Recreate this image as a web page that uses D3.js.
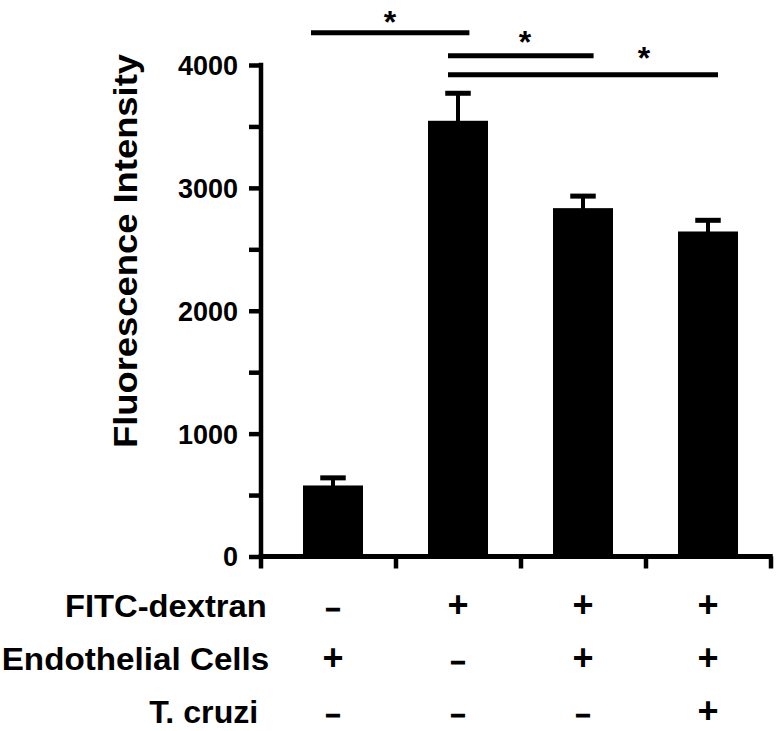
<!DOCTYPE html>
<html>
<head>
<meta charset="utf-8">
<script src="https://cdn.jsdelivr.net/npm/d3@7"></script>
<style>
  html, body { margin: 0; padding: 0; background: #fff; }
  svg { display: block; }
  text { font-family: "Liberation Sans", Arial, Helvetica, sans-serif; font-weight: bold; fill: #000; }
</style>
</head>
<body>
<svg id="chart" width="782" height="731"></svg>
<script>
// ---------- data ----------
const categories = ["EC only", "FITC-dextran", "FITC-dextran + EC", "FITC-dextran + EC + T. cruzi"];
const means = [578, 3546, 2835, 2645];
const sems = [62, 224, 98, 91];
const yTickValues = [0, 500, 1000, 1500, 2000, 2500, 3000, 3500, 4000];
const yLabelValues = [0, 1000, 2000, 3000, 4000];
const yTitle = "Fluorescence Intensity";
const rowLabels = ["FITC-dextran", "Endothelial Cells", "T. cruzi"];
const fitcRow = ["–", "+", "+", "+"];
const endoRow = ["+", "–", "+", "+"];
const cruziRow = ["–", "–", "–", "+"];
const comparisons = [[0, 1], [1, 2], [1, 3]];
const sigLabels = ["*", "*", "*"];

// ---------- layout ----------
const L = {
  axisX: 261, y0: 556.5, y1: 65, bandStart: 270.5, bandEnd: 770.5,
  barFrac: 0.48, capW: 25.5, capH: 5, stemW: 4, lineW: 4.5, tickLen: 12,
  rowBaselines: [616.7, 670, 723.3],
  rowRight: [266.7, 269.3, 258.3],
  rowLengths: [201.7, 267.6, 109],
  rowFont: 31,
  brackets: [
    { y: 32.7, off0: -22, off1: 11.4, starDx: 57, starY: 14 },
    { y: 55.8, off0: -10, off1: 10.6, starDx: 67, starY: 34 },
    { y: 74.8, off0: -10, off1: 10, starDx: 186, starY: 49.7 }
  ]
};

const svg = d3.select("#chart");
const y = d3.scaleLinear().domain([0, 4000]).range([L.y0, L.y1]);
const x = d3.scaleBand().domain(categories).range([L.bandStart, L.bandEnd]).padding(0);
const bw = x.bandwidth();
const barW = bw * L.barFrac;
const xc = c => x(c) + bw / 2;

// ---------- bars ----------
const data = categories.map((c, i) => ({ c, m: means[i], e: sems[i] }));
svg.append("g").selectAll("rect").data(data).join("rect")
  .attr("x", d => xc(d.c) - barW / 2)
  .attr("y", d => y(d.m))
  .attr("width", barW)
  .attr("height", d => y(0) - y(d.m) + 2.5)
  .attr("fill", "#000");

// error bars
const eb = svg.append("g");
eb.selectAll("rect.stem").data(data).join("rect").attr("class", "stem")
  .attr("x", d => xc(d.c) - L.stemW / 2)
  .attr("y", d => y(d.m + d.e))
  .attr("width", L.stemW)
  .attr("height", d => y(d.m) - y(d.m + d.e) + 1)
  .attr("fill", "#000");
eb.selectAll("rect.cap").data(data).join("rect").attr("class", "cap")
  .attr("x", d => xc(d.c) - L.capW / 2)
  .attr("y", d => y(d.m + d.e) - L.capH / 2)
  .attr("width", L.capW)
  .attr("height", L.capH)
  .attr("fill", "#000");

// ---------- y axis ----------
const yAxis = d3.axisLeft(y)
  .tickValues(yTickValues)
  .tickSize(L.tickLen)
  .tickSizeOuter(0)
  .tickPadding(11)
  .tickFormat(v => yLabelValues.includes(v) ? String(v) : "");
const gy = svg.append("g").attr("transform", `translate(${L.axisX},0)`).call(yAxis);
gy.select(".domain").remove();
gy.selectAll(".tick line").attr("stroke", "#000").attr("stroke-width", L.lineW);
gy.selectAll(".tick text").attr("font-size", 27).attr("font-family", "Liberation Sans, Arial, sans-serif").attr("font-weight", "bold").attr("dy", "0.35em");
gy.append("line")
  .attr("x1", 0).attr("x2", 0)
  .attr("y1", y(4000) - L.lineW / 2)
  .attr("y2", y(0) + L.tickLen)
  .attr("stroke", "#000").attr("stroke-width", L.lineW);

// ---------- x axis ----------
const boundaries = categories.map(c => x(c) + bw);
const xAxisScale = d3.scaleIdentity().domain([L.axisX, L.bandEnd]);
const xAxis = d3.axisBottom(xAxisScale).tickValues(boundaries).tickSize(L.tickLen).tickSizeOuter(0).tickFormat("");
const gx = svg.append("g").attr("transform", `translate(0,${y(0)})`).call(xAxis);
gx.select(".domain").remove();
gx.selectAll(".tick line").attr("stroke", "#000").attr("stroke-width", L.lineW);
gx.append("line")
  .attr("x1", L.axisX - L.lineW / 2).attr("x2", L.bandEnd + L.lineW / 2)
  .attr("y1", 0).attr("y2", 0)
  .attr("stroke", "#000").attr("stroke-width", 5);

// ---------- y title ----------
svg.append("text")
  .attr("transform", `translate(137,251) rotate(-90)`)
  .attr("text-anchor", "middle")
  .attr("font-size", 33)
  .attr("textLength", 394)
  .attr("lengthAdjust", "spacingAndGlyphs")
  .text(yTitle);

// ---------- condition rows ----------
const rows = [fitcRow, endoRow, cruziRow];
rowLabels.forEach((lab, r) => {
  svg.append("text")
    .attr("x", L.rowRight[r] - L.rowLengths[r])
    .attr("y", L.rowBaselines[r])
    .attr("font-size", L.rowFont)
    .attr("textLength", L.rowLengths[r])
    .attr("lengthAdjust", "spacingAndGlyphs")
    .text(lab);
  svg.append("g").selectAll("text").data(rows[r].map((s, i) => ({ s, c: categories[i] }))).join("text")
    .attr("x", d => xc(d.c))
    .attr("y", L.rowBaselines[r])
    .attr("text-anchor", "middle")
    .attr("font-size", d => d.s === "+" ? 36 : 26)
    .attr("stroke", d => d.s === "+" ? "none" : "#000")
    .attr("stroke-width", 1.2)
    .text(d => d.s);
});

// ---------- significance brackets ----------
comparisons.forEach((pair, k) => {
  const b = L.brackets[k];
  const xa = xc(categories[pair[0]]) + b.off0;
  const xb = xc(categories[pair[1]]) + b.off1;
  svg.append("line")
    .attr("x1", xa).attr("x2", xb)
    .attr("y1", b.y).attr("y2", b.y)
    .attr("stroke", "#000").attr("stroke-width", 5);
  svg.append("text")
    .attr("x", xc(categories[pair[0]]) + b.starDx)
    .attr("y", b.starY + 19)
    .attr("text-anchor", "middle")
    .attr("font-size", 32)
    .text(sigLabels[k]);
});
</script>
</body>
</html>
